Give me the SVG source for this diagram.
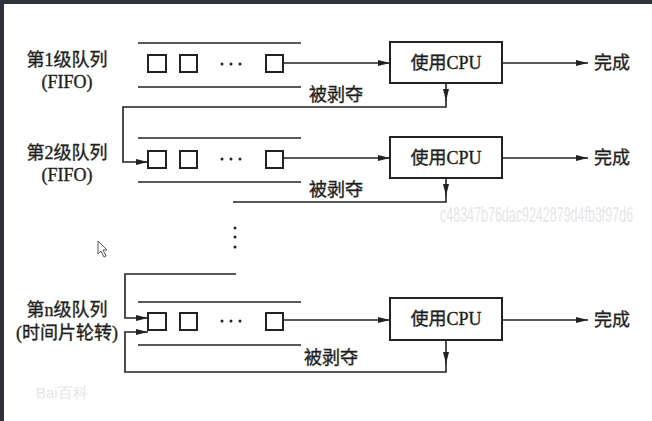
<svg xmlns="http://www.w3.org/2000/svg" width="652" height="421" viewBox="0 0 652 421">
<style>
.t{font-family:"Liberation Serif","Noto Sans CJK SC",serif;font-size:18px;fill:#1e1e1e;stroke:#1e1e1e;stroke-width:0.35}
.c{text-anchor:middle}
.ln{stroke:#222;stroke-width:1.6;fill:none}
.sq{stroke:#222;stroke-width:2;fill:#fff}
.box{stroke:#222;stroke-width:2;fill:#fff}
.dot{fill:#222}
.wm{font-family:"Liberation Sans",sans-serif;fill:#e6e6e9}
</style>
<defs>
<marker id="ah" viewBox="0 0 12 6" refX="12" refY="3" markerWidth="12" markerHeight="6" markerUnits="userSpaceOnUse" orient="auto">
<path d="M0,0 L12,3 L0,6 Z" fill="#222"/>
</marker>
</defs>
<rect x="0" y="0" width="652" height="421" fill="#fff"/>
<rect x="0" y="0" width="652" height="4" fill="#2f3238"/>
<rect x="0" y="0" width="4" height="421" fill="#2f3238"/>

<text class="wm" transform="translate(440,222) scale(1,1.7)" x="0" y="0" font-size="12.5">c48347b76dac9242879d4fb3f97d6</text>
<text class="wm" x="36" y="398" font-size="15" fill="#e2e2e2">Bai百科</text>

<path d="M98,241 L98,254 L101,251 L104,257 L106,256 L103,250 L107,250 Z" fill="#fff" stroke="#555" stroke-width="1"/>

<g id="label1">
<text class="t c" x="67" y="66">第1级队列</text>
<text class="t c" x="67" y="88">(FIFO)</text>
</g>
<g id="label2">
<text class="t c" x="67" y="159">第2级队列</text>
<text class="t c" x="67" y="181">(FIFO)</text>
</g>
<g id="labeln">
<text class="t c" x="67" y="316">第n级队列</text>
<text class="t c" x="67" y="339">(时间片轮转)</text>
</g>

<g id="queue1">
<line class="ln" x1="138" y1="43" x2="301" y2="43"/>
<line class="ln" x1="138" y1="87" x2="301" y2="87"/>
<rect class="sq" x="148" y="55" width="18" height="17"/>
<rect class="sq" x="180" y="55" width="17" height="17"/>
<circle class="dot" cx="222" cy="64" r="1.5"/><circle class="dot" cx="231" cy="64" r="1.5"/><circle class="dot" cx="240" cy="64" r="1.5"/>
<rect class="sq" x="266" y="55" width="17" height="17"/>
</g>
<g id="queue2">
<line class="ln" x1="138" y1="138" x2="301" y2="138"/>
<line class="ln" x1="138" y1="182" x2="301" y2="182"/>
<rect class="sq" x="148" y="151" width="18" height="17"/>
<rect class="sq" x="180" y="151" width="17" height="17"/>
<circle class="dot" cx="222" cy="159" r="1.5"/><circle class="dot" cx="231" cy="159" r="1.5"/><circle class="dot" cx="240" cy="159" r="1.5"/>
<rect class="sq" x="266" y="151" width="17" height="17"/>
</g>
<g id="queuen">
<line class="ln" x1="138" y1="302" x2="301" y2="302"/>
<line class="ln" x1="138" y1="345" x2="301" y2="345"/>
<rect class="sq" x="148" y="313" width="18" height="17"/>
<rect class="sq" x="180" y="313" width="17" height="17"/>
<circle class="dot" cx="222" cy="321" r="1.5"/><circle class="dot" cx="231" cy="321" r="1.5"/><circle class="dot" cx="240" cy="321" r="1.5"/>
<rect class="sq" x="266" y="313" width="17" height="17"/>
</g>

<g id="cpu1">
<rect class="box" x="390" y="42" width="112" height="41"/>
<text class="t c" x="446" y="69">使用CPU</text>
</g>
<g id="cpu2">
<rect class="box" x="390" y="137" width="112" height="41"/>
<text class="t c" x="446" y="164">使用CPU</text>
</g>
<g id="cpun">
<rect class="box" x="390" y="298" width="112" height="42"/>
<text class="t c" x="446" y="325">使用CPU</text>
</g>

<g id="done1"><text class="t" x="594" y="69">完成</text></g>
<g id="done2"><text class="t" x="594" y="164">完成</text></g>
<g id="donen"><text class="t" x="594" y="326">完成</text></g>

<g id="vdots">
<circle class="dot" cx="235" cy="228" r="1.5"/>
<circle class="dot" cx="235" cy="237" r="1.5"/>
<circle class="dot" cx="235" cy="247" r="1.5"/>
</g>

<g id="connectors">
<line class="ln" x1="283" y1="63" x2="390" y2="63" marker-end="url(#ah)"/>
<line class="ln" x1="502" y1="63" x2="588" y2="63" marker-end="url(#ah)"/>
<line class="ln" x1="283" y1="158" x2="390" y2="158" marker-end="url(#ah)"/>
<line class="ln" x1="502" y1="158" x2="588" y2="158" marker-end="url(#ah)"/>
<line class="ln" x1="283" y1="320" x2="390" y2="320" marker-end="url(#ah)"/>
<line class="ln" x1="502" y1="320" x2="588" y2="320" marker-end="url(#ah)"/>

<line class="ln" x1="446" y1="83" x2="446" y2="101" marker-end="url(#ah)"/>
<path class="ln" d="M446,100 L446,107 L123,107 L123,162 L148,162" marker-end="url(#ah)"/>

<line class="ln" x1="446" y1="178" x2="446" y2="196" marker-end="url(#ah)"/>
<path class="ln" d="M446,195 L446,202 L233,202"/>

<path class="ln" d="M236,274 L125,274 L125,318 L148,318" marker-end="url(#ah)"/>
<line class="ln" x1="446" y1="340" x2="446" y2="364" marker-end="url(#ah)"/>
<path class="ln" d="M446,363 L446,372 L125,372 L125,332 L148,332" marker-end="url(#ah)"/>
</g>

<g id="preempt-labels">
<text class="t" x="309" y="101">被剥夺</text>
<text class="t" x="309" y="196">被剥夺</text>
<text class="t" x="304" y="364">被剥夺</text>
</g>
</svg>
